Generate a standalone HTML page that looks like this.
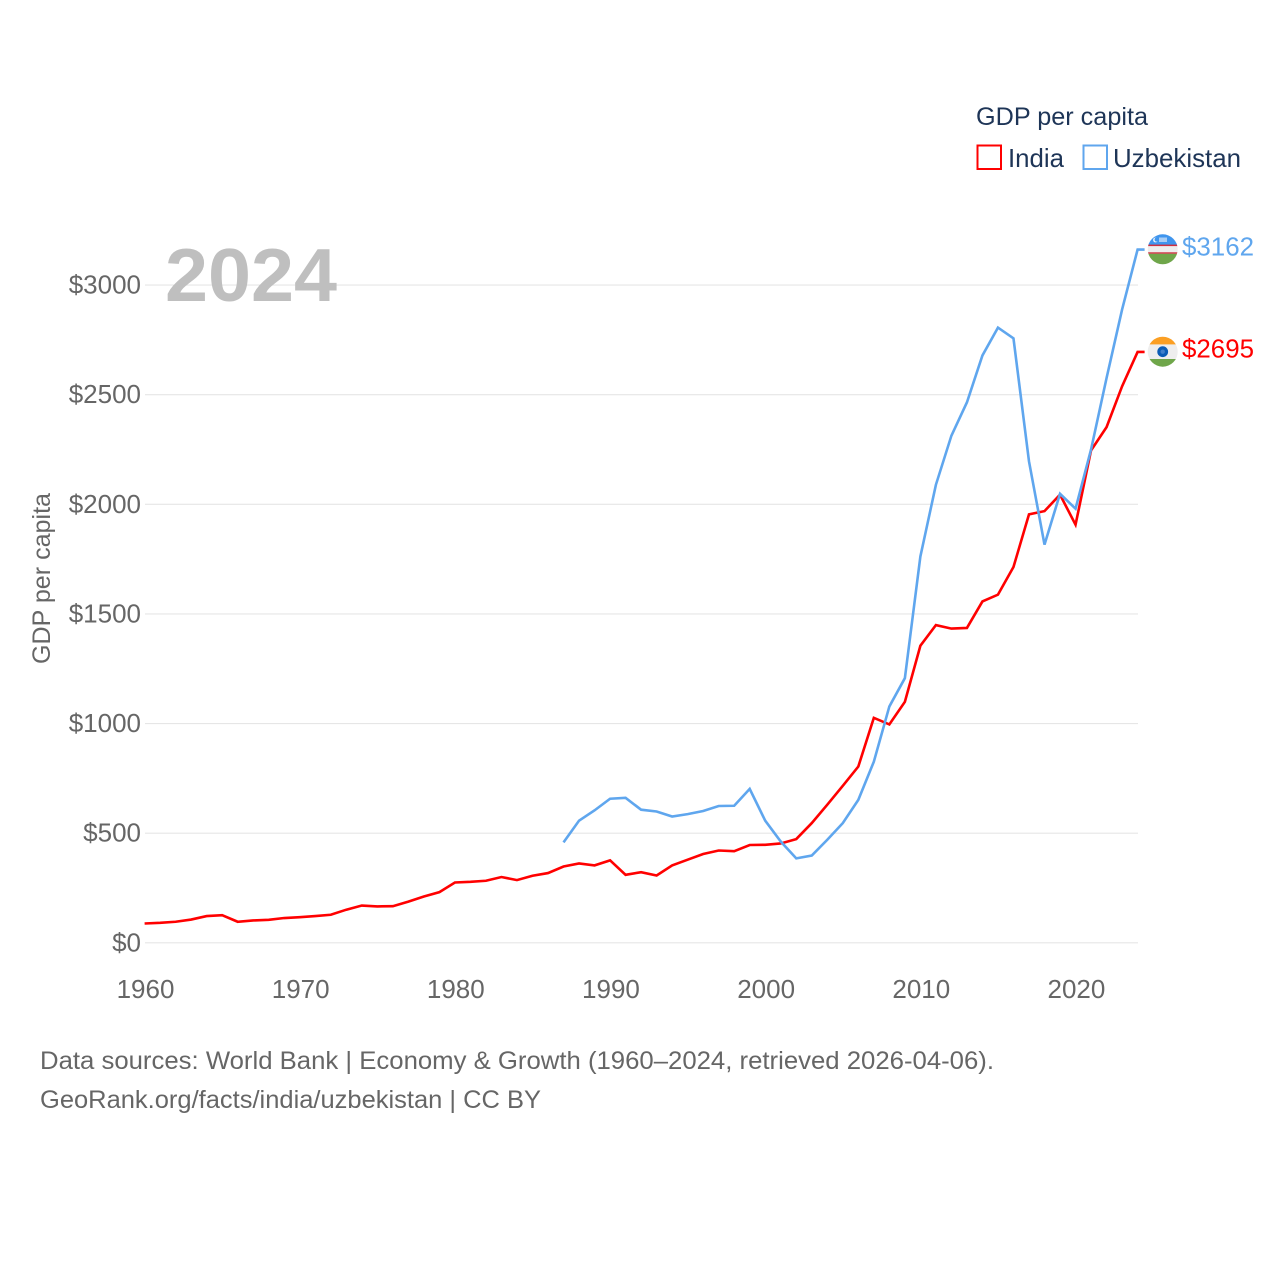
<!DOCTYPE html>
<html lang="en">
<head>
<meta charset="utf-8">
<title>GDP per capita: India and Uzbekistan</title>
<style>
html,body{margin:0;padding:0;background:#fff;width:1280px;height:1280px;overflow:hidden}
svg{display:block}
text{font-family:"Liberation Sans",sans-serif}
</style>
</head>
<body>
<svg id="chart" width="1280" height="1280" viewBox="0 0 1280 1280" xmlns="http://www.w3.org/2000/svg">
  <defs>
    <clipPath id="clip-uz"><circle cx="1162.7" cy="249.3" r="15"/></clipPath>
    <clipPath id="clip-in"><circle cx="1162.7" cy="351.7" r="15"/></clipPath>
  </defs>
  <rect x="0" y="0" width="1280" height="1280" fill="#ffffff"/>
  <g id="grid"></g>
  <g id="y-ticks"></g>
  <g id="x-ticks"></g>
  <text x="165" y="301" font-size="75" font-weight="700" fill="#bfbfbf" textLength="172" lengthAdjust="spacingAndGlyphs">2024</text>
  <text transform="translate(50,664) rotate(-90)" font-size="25" fill="#666666" textLength="171" lengthAdjust="spacingAndGlyphs">GDP per capita</text>
  <g id="series"></g>

  <g clip-path="url(#clip-uz)">
    <rect x="1147" y="234" width="32" height="32" fill="#eeeeee"/>
    <rect x="1147" y="234" width="32" height="11" fill="#3f95ee"/>
    <rect x="1147" y="244.6" width="32" height="1.5" fill="#cf3040"/>
    <rect x="1147" y="252.3" width="32" height="1.5" fill="#cf3040"/>
    <rect x="1147" y="253.8" width="32" height="12" fill="#6fa64a"/>
    <circle cx="1155.5" cy="240" r="2.4" fill="#eef4fb"/>
    <circle cx="1156.6" cy="239.6" r="2" fill="#3f95ee"/>
    <rect x="1159" y="237.5" width="8" height="4.5" fill="#a9cdf4"/>
  </g>
  <g clip-path="url(#clip-in)">
    <rect x="1147" y="336" width="32" height="32" fill="#eeeeee"/>
    <rect x="1147" y="336" width="32" height="8.4" fill="#fb9f23"/>
    <rect x="1147" y="359" width="32" height="9" fill="#6fa64a"/>
    <circle cx="1162.7" cy="351.7" r="5.4" fill="#0b5cb5"/>
    <circle cx="1162.7" cy="351.7" r="2.2" fill="#3f7fca"/>
  </g>
  <text id="label-uz" x="1182" y="255.5" font-size="26" fill="#5fa6ee" textLength="72" lengthAdjust="spacingAndGlyphs"></text>
  <text id="label-in" x="1182" y="357.5" font-size="26" fill="#ff0000" textLength="72" lengthAdjust="spacingAndGlyphs"></text>

  <g>
    <text x="976" y="125" font-size="25" fill="#1e3557" textLength="172" lengthAdjust="spacingAndGlyphs">GDP per capita</text>
    <rect x="977.5" y="145.5" width="23.5" height="23.5" fill="none" stroke="#ff0000" stroke-width="2"/>
    <text x="1008" y="167" font-size="26" fill="#1e3557" textLength="56" lengthAdjust="spacingAndGlyphs">India</text>
    <rect x="1083.5" y="145.5" width="23.5" height="23.5" fill="none" stroke="#5fa6ee" stroke-width="2"/>
    <text x="1113" y="167" font-size="26" fill="#1e3557" textLength="128" lengthAdjust="spacingAndGlyphs">Uzbekistan</text>
  </g>

  <text x="40" y="1069" font-size="25" fill="#666666" textLength="954" lengthAdjust="spacingAndGlyphs">Data sources: World Bank | Economy &amp; Growth (1960–2024, retrieved 2026-04-06).</text>
  <text x="40" y="1108" font-size="25" fill="#666666" textLength="501" lengthAdjust="spacingAndGlyphs">GeoRank.org/facts/india/uzbekistan | CC BY</text>
</svg>
<script>
const yTickValues = [0, 500, 1000, 1500, 2000, 2500, 3000];
const xTickYears = [1960, 1970, 1980, 1990, 2000, 2010, 2020];
const firstYear = 1960;
const lastYear = 2024;
const indiaValues = [88, 91, 96, 106, 122, 126, 96, 102, 105, 113, 117, 122, 128, 151, 170, 166, 167, 188, 211, 231, 275, 278, 283, 300, 286, 306, 318, 348, 362, 353, 376, 310, 322, 307, 353, 379, 405, 421, 418, 446, 447, 453, 473, 546, 630, 716, 804, 1026, 996, 1099, 1355, 1449, 1433, 1436, 1557, 1588, 1714, 1954, 1969, 2044, 1907, 2246, 2352, 2538, 2695];
const uzbekistanStartYear = 1987;
const uzbekistanValues = [458, 557, 604, 657, 661, 607, 599, 576, 587, 601, 624, 625, 702, 557, 462, 385, 398, 470, 546, 652, 826, 1078, 1207, 1762, 2089, 2313, 2465, 2679, 2806, 2757, 2196, 1816, 2048, 1980, 2250, 2576, 2888, 3162];

const NS = 'http://www.w3.org/2000/svg';
function xScale(year) { return 144.6 + (year - firstYear) * (1137.6 - 144.6) / (lastYear - firstYear); }
function yScale(value) { return 942.8 - value * 0.21925; }

function makeSvg(tag, attrs, parent) {
  const el = document.createElementNS(NS, tag);
  for (const key in attrs) el.setAttribute(key, attrs[key]);
  parent.appendChild(el);
  return el;
}

const grid = document.getElementById('grid');
const yTicks = document.getElementById('y-ticks');
const xTicks = document.getElementById('x-ticks');
const series = document.getElementById('series');

yTickValues.forEach(function (v) {
  const line = makeSvg('line', { x1: 145, x2: 1138, y1: yScale(v), y2: yScale(v), stroke: '#e6e6e6', 'stroke-width': 1.2 }, grid);
  
  
  const label = makeSvg('text', { x: 141, y: yScale(v) + 8.5, 'text-anchor': 'end', 'font-size': 26, fill: '#666666' }, yTicks);
  label.textContent = '$' + v;
  
  
});

xTickYears.forEach(function (year) {
  const label = makeSvg('text', { x: xScale(year) + 0.9, y: 998, 'text-anchor': 'middle', 'font-size': 26, fill: '#666666' }, xTicks);
  label.textContent = String(year);
  
  
});

function linePoints(values, startYear) {
  const pts = values.map(function (v, i) { return xScale(startYear + i).toFixed(2) + ',' + yScale(v).toFixed(2); });
  const last = values[values.length - 1];
  pts.push((xScale(startYear + values.length - 1) + 7).toFixed(2) + ',' + yScale(last).toFixed(2));
  return pts.join(' ');
}

const indiaLine = makeSvg('polyline', { points: linePoints(indiaValues, firstYear), fill: 'none', stroke: '#ff0000', 'stroke-width': 2.6, 'stroke-linejoin': 'miter' }, series);



const uzLine = makeSvg('polyline', { points: linePoints(uzbekistanValues, uzbekistanStartYear), fill: 'none', stroke: '#5fa6ee', 'stroke-width': 2.6, 'stroke-linejoin': 'miter' }, series);



document.getElementById('label-uz').textContent = '$' + uzbekistanValues[uzbekistanValues.length - 1];
document.getElementById('label-in').textContent = '$' + indiaValues[indiaValues.length - 1];
</script>
</body>
</html>
